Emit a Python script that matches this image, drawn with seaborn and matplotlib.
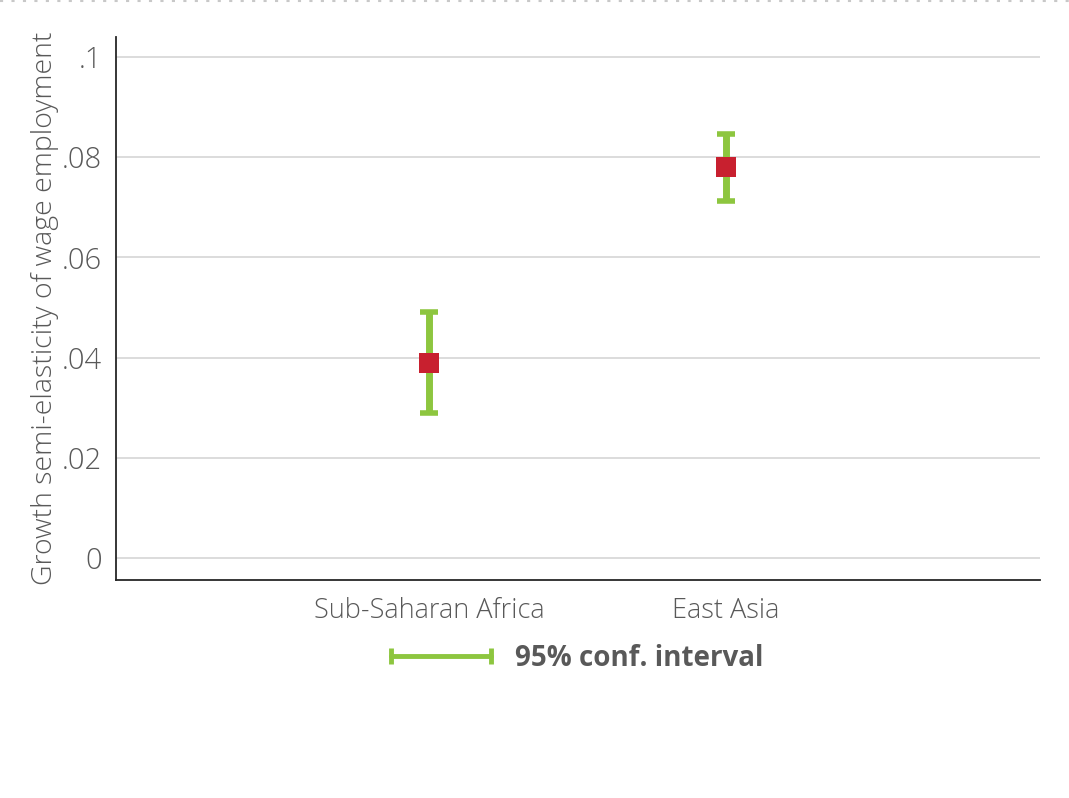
import numpy as np
import pandas as pd
import matplotlib.pyplot as plt
import seaborn as sns
from matplotlib.lines import Line2D

# data
regions = ["Sub-Saharan Africa", "East Asia"]
estimates = [0.039, 0.078]
ci_low = [0.029, 0.0713]
ci_high = [0.049, 0.0846]

y_ticks = [0, 0.02, 0.04, 0.06, 0.08, 0.1]
y_tick_labels = ["0", ".02", ".04", ".06", ".08", ".1"]

GREEN = "#8DC63F"
RED = "#C8202F"
GRAY = "#595959"

sns.set_style("white")
plt.rcParams["font.family"] = ["Open Sans", "DejaVu Sans"]

fig = plt.figure(figsize=(10.69, 7.98), dpi=100)
ax = fig.add_axes([0.1085, 0.273, 0.8645, 0.681])

df = pd.DataFrame({"pos": np.arange(len(regions)), "est": estimates,
                   "lo": ci_low, "hi": ci_high})

ax.errorbar(df["pos"], df["est"],
            yerr=[df["est"] - df["lo"], df["hi"] - df["est"]],
            fmt="none", ecolor=GREEN, elinewidth=5, capsize=6.5,
            capthick=4, zorder=3)
sns.scatterplot(data=df, x="pos", y="est", marker="s", s=190, color=RED,
                edgecolor=RED, linewidth=0, zorder=4, ax=ax)

ax.set_xlim(-1.054, 2.057)
ax.set_ylim(-0.0044, 0.104)
ax.set_yticks(y_ticks)
ax.set_yticklabels(y_tick_labels)
ax.set_xticks(df["pos"])
ax.set_xticklabels(regions)
ax.grid(axis="y", color="#D9D9D9", linewidth=1.3)
ax.set_axisbelow(True)

sns.despine(ax=ax)
for side in ["left", "bottom"]:
    ax.spines[side].set_color("#262626")
    ax.spines[side].set_linewidth(1.3)

ax.tick_params(axis="y", length=0, pad=10, labelsize=21, labelcolor=GRAY)
ax.tick_params(axis="x", length=7, width=1.2, color="#262626", pad=5,
               labelsize=19.5, labelcolor=GRAY, direction="out")
for lab in ax.get_yticklabels() + ax.get_xticklabels():
    lab.set_fontweight("light")

ax.set_xlabel("")
ax.set_ylabel("Growth semi-elasticity of wage employment", fontsize=20.5,
              color=GRAY, fontweight="light", labelpad=2)

handle = Line2D([], [], color=GREEN, lw=3.5, marker="|", markersize=11,
                markeredgewidth=3.5)
fig.legend([handle], ["95% conf. interval"], loc="center",
           bbox_to_anchor=(0.536, 0.175), frameon=False, numpoints=2,
           handlelength=4.2, handletextpad=0.55,
           prop={"size": 20, "weight": "bold"}, labelcolor=GRAY)

# dotted frame line at the very top
fig.add_artist(Line2D([0, 1], [0.999, 0.999], transform=fig.transFigure,
                      color="#C8C8C8", lw=1.5, linestyle=(0, (1.5, 4))))

fig.savefig("out.png", dpi=100)
